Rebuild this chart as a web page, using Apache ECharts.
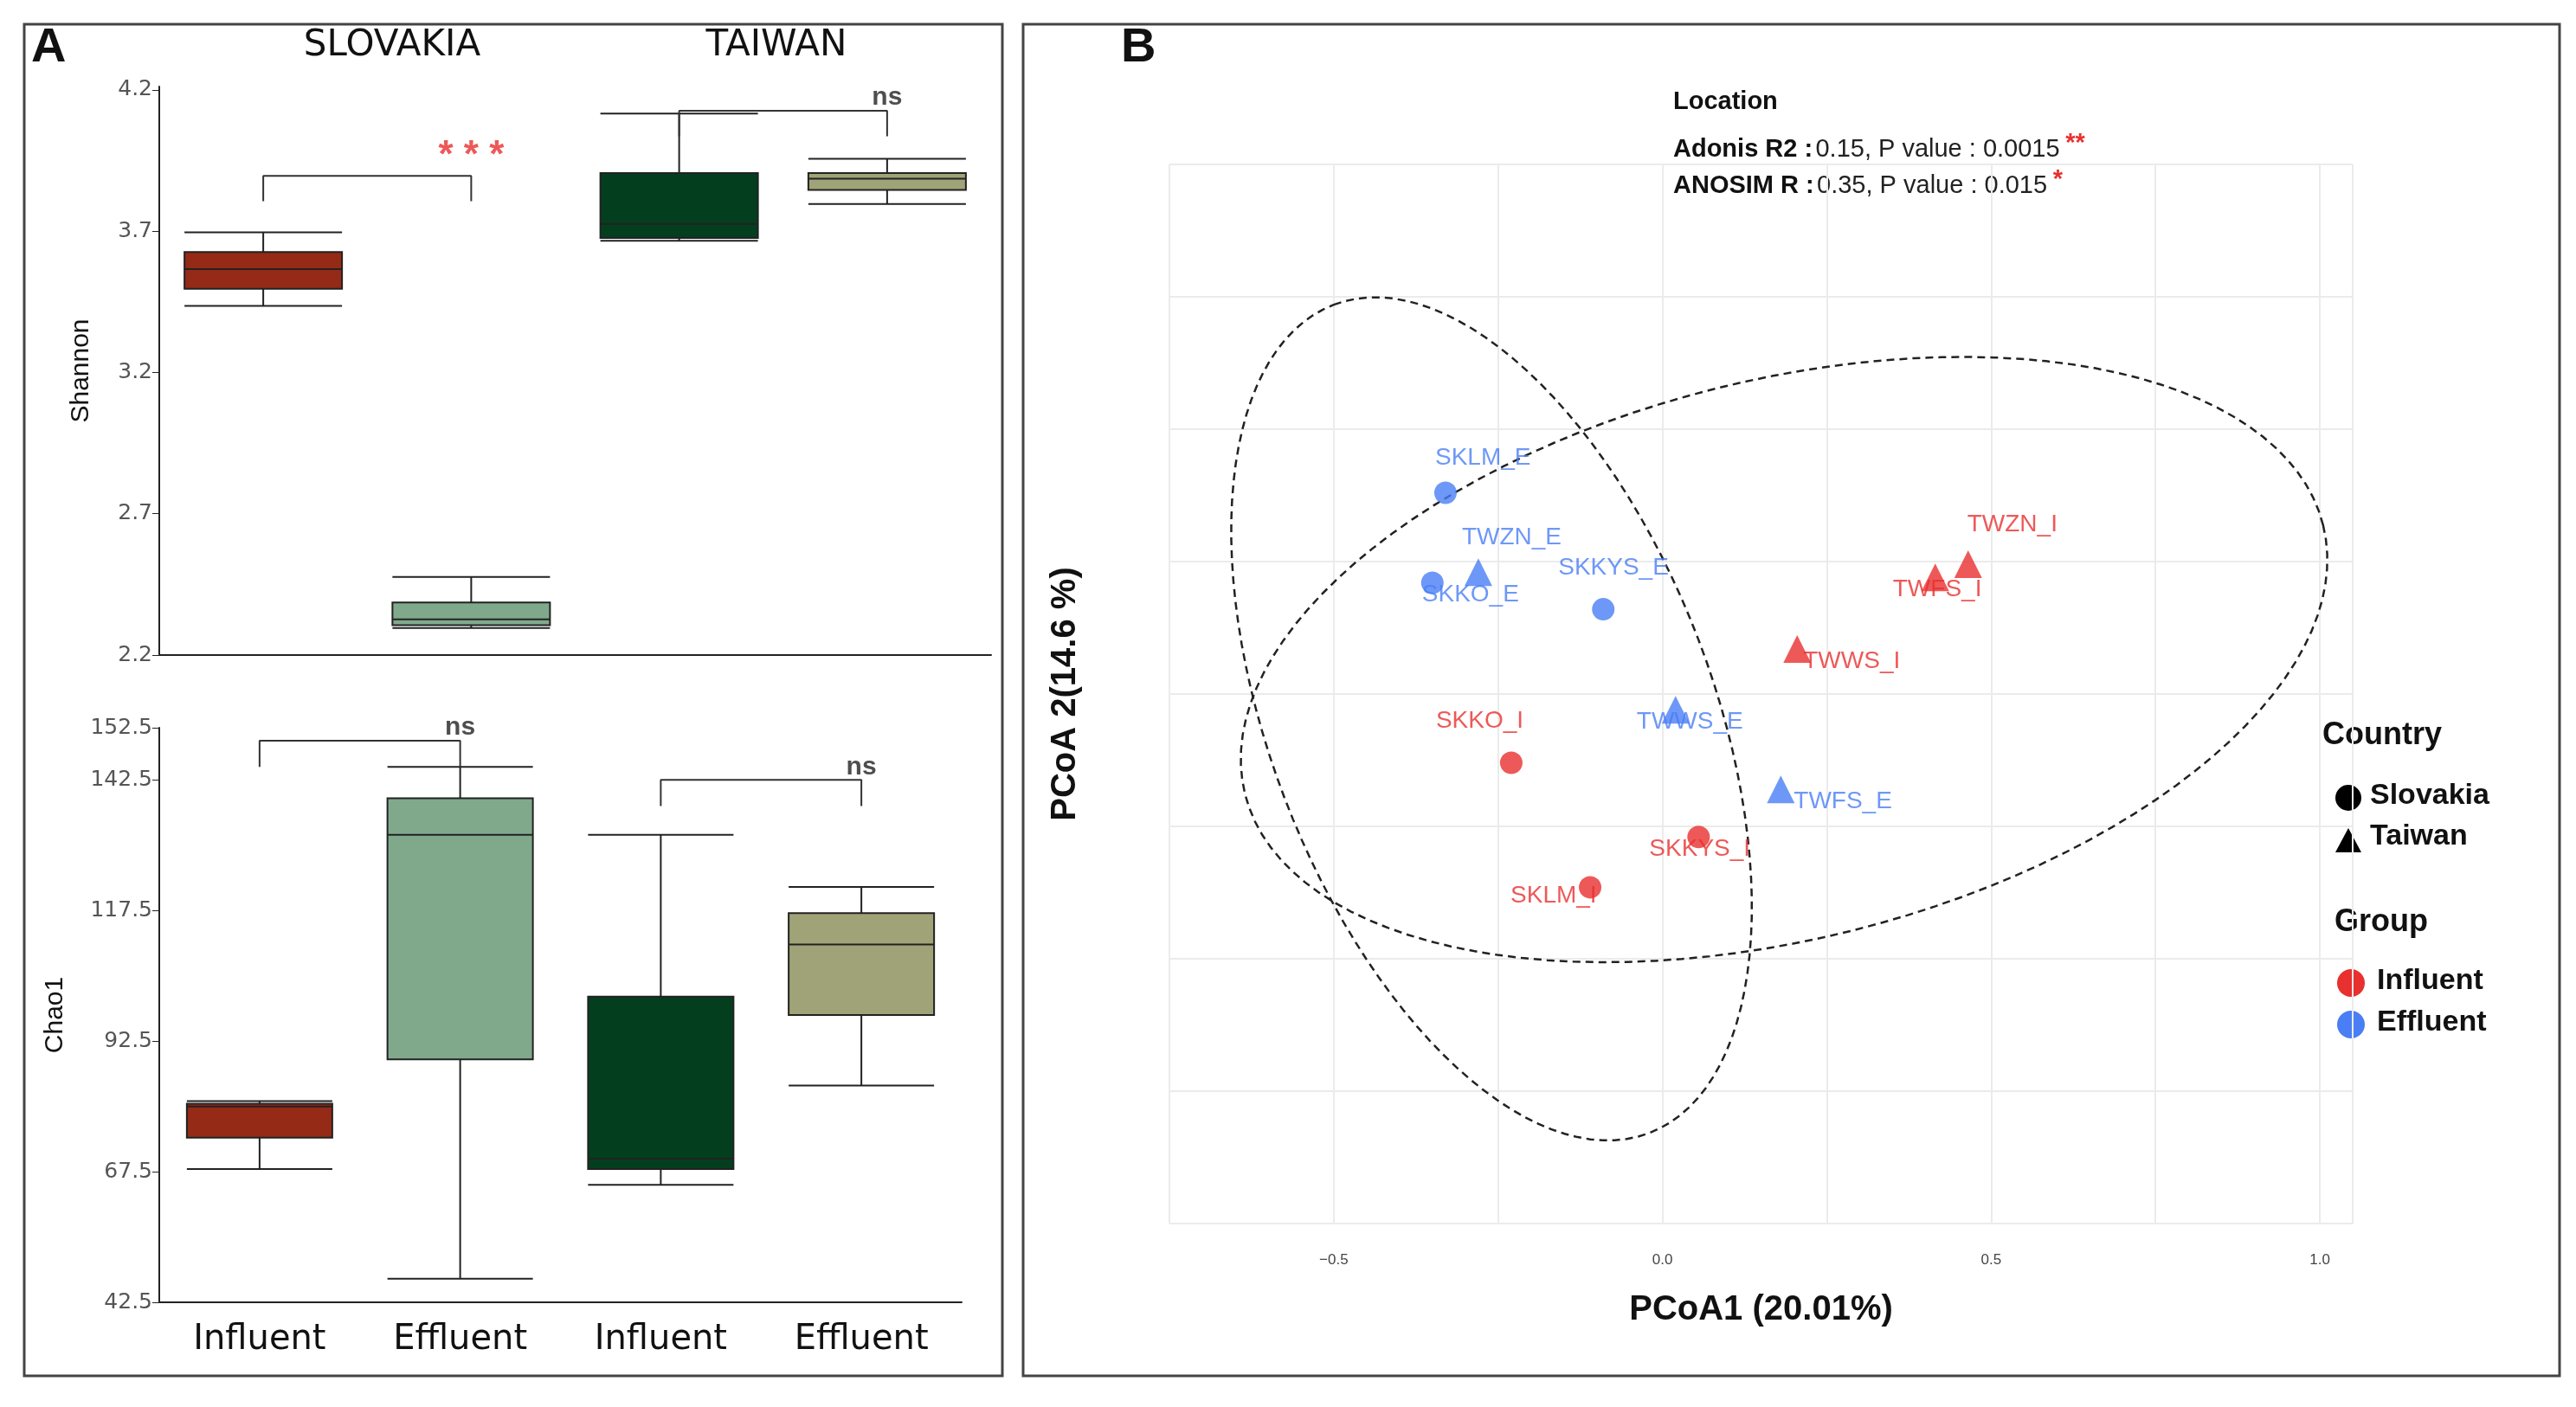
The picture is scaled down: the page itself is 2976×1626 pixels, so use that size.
<!DOCTYPE html>
<html><head><meta charset="utf-8">
<script src="https://cdn.jsdelivr.net/npm/echarts@6/dist/echarts.min.js"></script>
<style>html,body{margin:0;background:#fff}#c{width:2976px;height:1626px}</style>
</head><body><div id="c"></div>
<script>
// data
var groups = ['Influent', 'Effluent', 'Influent', 'Effluent'];
var boxColors = ['#952a16', '#80a98c', '#033f1f', '#a0a377'];
// [min, Q1, median, Q3, max]
var shannon = [[3.48, 3.54, 3.61, 3.67, 3.74], [2.34, 2.35, 2.37, 2.43, 2.52], [3.71, 3.72, 3.77, 3.95, 4.16], [3.84, 3.89, 3.93, 3.95, 4.00]];
var chao1 = [[68, 74, 80, 80.5, 81], [47, 89, 132, 139, 145], [65, 68, 70, 101, 132], [84, 97.5, 111, 117, 122]];
var samples = ['SKLM_E', 'SKKO_E', 'TWZN_E', 'SKKYS_E', 'TWWS_E', 'TWFS_E', 'SKKO_I', 'SKKYS_I', 'SKLM_I', 'TWWS_I', 'TWFS_I', 'TWZN_I'];
var pc1 = [-0.33, -0.35, -0.28, -0.09, 0.02, 0.18, -0.23, 0.055, -0.11, 0.205, 0.415, 0.465];
var pc2 = [0.34, 0.17, 0.19, 0.12, -0.07, -0.22, -0.17, -0.31, -0.405, 0.045, 0.18, 0.205];
var country = ['SK', 'SK', 'TW', 'SK', 'TW', 'TW', 'SK', 'SK', 'SK', 'TW', 'TW', 'TW'];
var group = ['E', 'E', 'E', 'E', 'E', 'E', 'I', 'I', 'I', 'I', 'I', 'I'];
// ellipses: centre, axis vector a, axis vector b (data units)
var ellipses = [
  { c: [-0.26, -0.087], a: [-0.24, 0.782], b: [0.315, 0.149] },
  { c: [0.185, 0.025], a: [0.82, 0.254], b: [-0.103, 0.512] }
];

var RED = '#e8302e', BLUE = '#4a7ef5';
var labelPos = {
  SKLM_E: [-30, -40], SKKO_E: [-30, 14], TWZN_E: [-40, -40], SKKYS_E: [-70, -48],
  TWWS_E: [-66, 14], TWFS_E: [-6, 14], SKKO_I: [-105, -48], SKKYS_I: [-75, 14],
  SKLM_I: [-110, 10], TWWS_I: [-14, 14], TWFS_I: [-70, 14], TWZN_I: [-22, -46]
};

var chart = echarts.init(document.getElementById('c'));

function boxSeries(data, xi, yi, w) {
  return {
    type: 'boxplot', xAxisIndex: xi, yAxisIndex: yi, boxWidth: [w, w],
    data: data.map(function (d, i) {
      return { value: d, itemStyle: { color: boxColors[i], borderColor: '#222', borderWidth: 2 } };
    }),
    itemStyle: { borderWidth: 2 }
  };
}
function bracket(xi, yi, x0, x1, y, dy, txt, txtColor, txtSize) {
  return [{
    type: 'line', xAxisIndex: xi, yAxisIndex: yi, symbol: 'none', silent: true,
    lineStyle: { color: '#333', width: 2 },
    data: [[x0, y - dy], [x0, y], [x1, y], [x1, y - dy]]
  }, {
    type: 'scatter', xAxisIndex: xi, yAxisIndex: yi, symbolSize: 0, silent: true,
    data: [[(x0 + x1) / 2, y]],
    label: { show: true, formatter: txt, position: 'top', distance: 0, color: txtColor, fontSize: txtSize, fontWeight: 'bold', fontFamily: 'Liberation Sans' }
  }];
}

var scatterSeries = [];
['SK', 'TW'].forEach(function (ct) {
  ['I', 'E'].forEach(function (g) {
    var pts = [];
    samples.forEach(function (s, i) {
      if (country[i] === ct && group[i] === g) {
        pts.push({ value: [pc1[i], pc2[i]], name: s, label: { offset: labelPos[s] } });
      }
    });
    scatterSeries.push({
      type: 'scatter', xAxisIndex: 2, yAxisIndex: 2, data: pts,
      symbol: ct === 'SK' ? 'circle' : 'triangle', symbolSize: ct === 'SK' ? 26 : 32,
      itemStyle: { color: g === 'I' ? RED : BLUE },
      label: { show: true, formatter: '{b}', position: 'right', color: g === 'I' ? RED : BLUE, fontSize: 28, fontFamily: 'Liberation Sans' }
    });
  });
});

var ellipseSeries = {
  type: 'custom', xAxisIndex: 2, yAxisIndex: 2, silent: true,
  data: ellipses.map(function (e, i) { return [i]; }),
  renderItem: function (params, api) {
    var e = ellipses[api.value(0)];
    var pts = [];
    for (var k = 0; k <= 120; k++) {
      var t = k / 120 * Math.PI * 2;
      pts.push(api.coord([e.c[0] + e.a[0] * Math.cos(t) + e.b[0] * Math.sin(t),
                          e.c[1] + e.a[1] * Math.cos(t) + e.b[1] * Math.sin(t)]));
    }
    return { type: 'polyline', shape: { points: pts }, style: { stroke: '#222', lineWidth: 2.5, lineDash: [9, 6], fill: null } };
  }
};

var tickFont = { color: '#555', fontSize: 25, fontFamily: 'DejaVu Sans' };
var axLine = { show: true, lineStyle: { color: '#222', width: 2 } };

var option = {
  animation: false,
  grid: [
    { left: 184, top: 100, width: 961, height: 657 },
    { left: 184, top: 841, width: 927, height: 664 },
    { left: 1351, top: 190, width: 1367, height: 1224 }
  ],
  xAxis: [
    { gridIndex: 0, type: 'category', data: groups, axisLabel: { show: false }, axisLine: axLine, axisTick: { alignWithLabel: true, length: 8, lineStyle: { color: '#888' } } },
    { gridIndex: 1, type: 'category', data: groups, axisLine: axLine, axisTick: { alignWithLabel: true, length: 8 },
      axisLabel: { color: '#111', fontSize: 40, fontFamily: 'DejaVu Sans', margin: 24 } },
    { gridIndex: 2, type: 'value', min: -0.75, max: 1.05, interval: 0.25, axisLine: { show: false }, axisTick: { show: false },
      splitLine: { lineStyle: { color: '#ebebeb', width: 2 } },
      axisLabel: { fontSize: 17, color: '#444', margin: 34, formatter: function (v) { return (v * 2) % 1 === 0 ? v.toFixed(1).replace('-', '\u2212') : ''; } },
      name: 'PCoA1 (20.01%)', nameLocation: 'middle', nameGap: 80, nameTextStyle: { fontSize: 40, fontWeight: 'bold', color: '#111', fontFamily: 'Liberation Sans' } }
  ],
  yAxis: [
    { gridIndex: 0, type: 'value', min: 2.244, max: 4.256, interval: 0.5, axisLine: axLine, axisTick: { show: true, length: 8 },
      splitLine: { show: false }, axisLabel: Object.assign({ formatter: function (v) { return v.toFixed(1); } }, tickFont),
      name: 'Shannon', nameLocation: 'middle', nameGap: 75, nameTextStyle: { fontSize: 30, color: '#111', fontFamily: 'Liberation Sans' } },
    { gridIndex: 1, type: 'value', min: 42.5, max: 152.5, interval: 25, axisLine: axLine, axisTick: { show: true, length: 8 },
      splitLine: { show: false }, axisLabel: Object.assign({ formatter: function (v) { return v.toFixed(1); } }, tickFont),
      name: 'Chao1', nameLocation: 'middle', nameGap: 105, nameTextStyle: { fontSize: 30, color: '#111', fontFamily: 'Liberation Sans' } },
    { gridIndex: 2, type: 'value', min: -1.04, max: 0.96, interval: 0.25, axisLine: { show: false }, axisTick: { show: false },
      splitLine: { lineStyle: { color: '#ebebeb', width: 2 } },
      axisLabel: { fontSize: 17, color: '#444', margin: 60, formatter: function (v) { return Math.abs(v * 2 - Math.round(v * 2)) < 1e-6 ? v.toFixed(1).replace('-', '\u2212') : ''; } },
      name: 'PCoA 2(14.6 %)', nameLocation: 'middle', nameGap: 100, nameTextStyle: { fontSize: 40, fontWeight: 'bold', color: '#111', fontFamily: 'Liberation Sans' } }
  ],
  series: [boxSeries(shannon, 0, 0, 182), boxSeries(chao1, 1, 1, 168)]
    .concat(bracket(0, 0, 0, 1, 3.94, 0.09, '* * *', RED, 44))
    .concat(bracket(0, 0, 2, 3, 4.17, 0.09, 'ns', '#222', 30))
    .concat(bracket(1, 1, 0, 1, 150, 5, 'ns', '#222', 30))
    .concat(bracket(1, 1, 2, 3, 142.5, 5, 'ns', '#222', 30))
    .concat([ellipseSeries]).concat(scatterSeries),
  graphic: [
    { type: 'rect', shape: { x: 28, y: 28, width: 1130, height: 1562 }, style: { fill: null, stroke: '#444', lineWidth: 3 } },
    { type: 'rect', shape: { x: 1182, y: 28, width: 1775, height: 1562 }, style: { fill: null, stroke: '#444', lineWidth: 3 } },
    { type: 'text', x: 36, y: 28, style: { text: 'A', fontSize: 56, fontWeight: 'bold', fill: '#111', fontFamily: 'Liberation Sans' } },
    { type: 'text', x: 1295, y: 28, style: { text: 'B', fontSize: 56, fontWeight: 'bold', fill: '#111', fontFamily: 'Liberation Sans' } },
    { type: 'text', x: 453, y: 53, style: { text: 'SLOVAKIA', fontSize: 42, fill: '#111', fontFamily: 'DejaVu Sans', align: 'center', verticalAlign: 'middle' } },
    { type: 'text', x: 897, y: 53, style: { text: 'TAIWAN', fontSize: 42, fill: '#111', fontFamily: 'DejaVu Sans', align: 'center', verticalAlign: 'middle' } },
    { type: 'text', x: 1933, y: 103, style: { text: 'Location', fontSize: 29, fontWeight: 'bold', fill: '#111', fontFamily: 'Liberation Sans' } },
    { type: 'text', x: 1933, y: 152, style: {
      rich: { b: { fontSize: 29, fontWeight: 'bold', fill: '#111', fontFamily: 'Liberation Sans' }, n: { fontSize: 29, fill: '#222', fontFamily: 'Liberation Sans' }, r: { fontSize: 29, fill: RED, fontWeight: 'bold', padding: [0, 0, 14, 0] } },
      text: '{b|Adonis R2 :} {n|0.15, P value : 0.0015}  {r|**}\n{b|ANOSIM R :} {n|0.35, P value : 0.015}  {r|*}', lineHeight: 42 } },
    { type: 'text', x: 2683, y: 832, style: { text: 'Country', fontSize: 36, fontWeight: 'bold', fill: '#111', fontFamily: 'Liberation Sans' } },
    { type: 'circle', shape: { cx: 2713, cy: 922, r: 15 }, style: { fill: '#000' } },
    { type: 'text', x: 2738, y: 903, style: { text: 'Slovakia', fontSize: 34, fontWeight: 'bold', fill: '#111', fontFamily: 'Liberation Sans' } },
    { type: 'polygon', shape: { points: [[2698, 985], [2728, 985], [2713, 957]] }, style: { fill: '#000' } },
    { type: 'text', x: 2738, y: 950, style: { text: 'Taiwan', fontSize: 34, fontWeight: 'bold', fill: '#111', fontFamily: 'Liberation Sans' } },
    { type: 'text', x: 2697, y: 1048, style: { text: 'Group', fontSize: 36, fontWeight: 'bold', fill: '#111', fontFamily: 'Liberation Sans' } },
    { type: 'circle', shape: { cx: 2716, cy: 1136, r: 16 }, style: { fill: RED } },
    { type: 'text', x: 2746, y: 1117, style: { text: 'Influent', fontSize: 34, fontWeight: 'bold', fill: '#111', fontFamily: 'Liberation Sans' } },
    { type: 'circle', shape: { cx: 2716, cy: 1184, r: 16 }, style: { fill: BLUE } },
    { type: 'text', x: 2746, y: 1165, style: { text: 'Effluent', fontSize: 34, fontWeight: 'bold', fill: '#111', fontFamily: 'Liberation Sans' } }
  ]
};
chart.setOption(option);
</script>
</body></html>
